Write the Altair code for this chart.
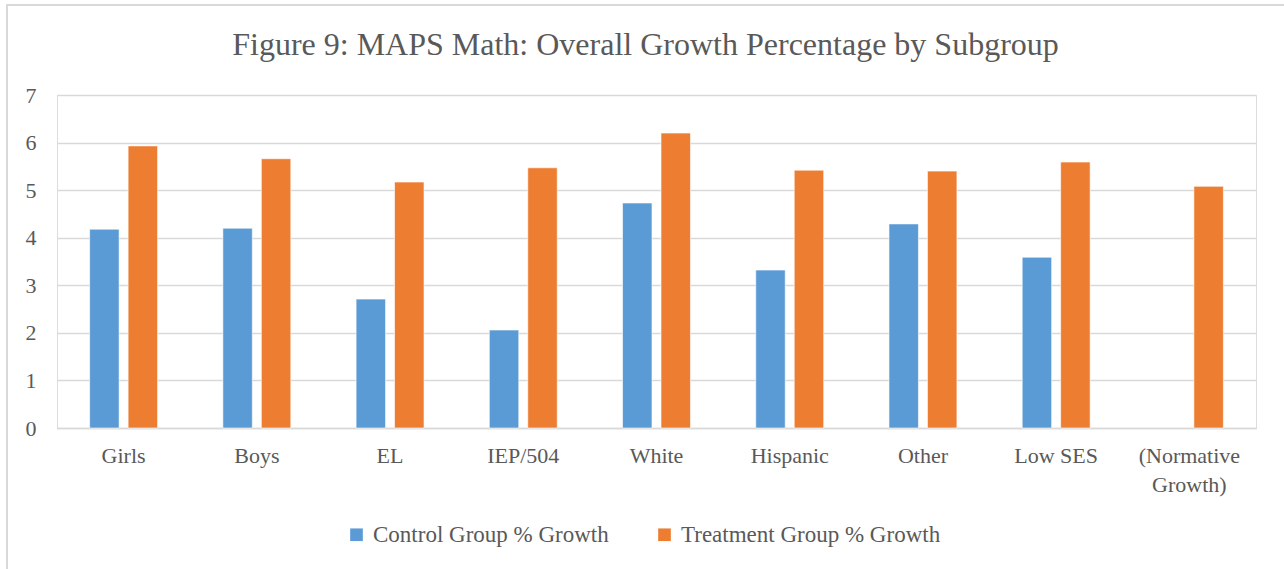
import altair as alt
import pandas as pd

categories = ["Girls", "Boys", "EL", "IEP/504", "White", "Hispanic", "Other", "Low SES", "(Normative Growth)"]
control = [4.18, 4.20, 2.71, 2.06, 4.73, 3.32, 4.29, 3.59, None]
treatment = [5.93, 5.66, 5.17, 5.47, 6.20, 5.42, 5.40, 5.59, 5.08]
series = ["Control Group % Growth", "Treatment Group % Growth"]
colors = ["#5b9bd5", "#ed7d31"]
title_text = ["Figure 9: MAPS Math: Overall Growth Percentage by Subgroup"]

rows = []
for c, a, b in zip(categories, control, treatment):
    if a is not None:
        rows.append({"cat": c, "series": series[0], "value": a})
    rows.append({"cat": c, "series": series[1], "value": b})
df = pd.DataFrame(rows)

FONT = "Liberation Serif"
TXT = "#595959"
W, H = 1199, 333

bars = alt.Chart(df).mark_bar(stroke="white", strokeWidth=1, strokeOpacity=0.6).encode(
    x=alt.X("cat:N", sort=categories, title=None,
            scale=alt.Scale(paddingInner=0.49, paddingOuter=0.245),
            axis=alt.Axis(labelAngle=0, ticks=False, domainColor="#d9d9d9", domainWidth=1.5,
                          labelFont=FONT, labelFontSize=22, labelColor=TXT, labelPadding=17,
                          labelLineHeight=29,
                          labelExpr="datum.value == '(Normative Growth)' ? ['(Normative', 'Growth)'] : datum.value")),
    xOffset=alt.XOffset("series:N", sort=series, scale=alt.Scale(paddingInner=0.234, paddingOuter=0)),
    y=alt.Y("value:Q", title=None,
            scale=alt.Scale(domain=[0, 7], nice=False),
            axis=alt.Axis(values=list(range(8)), domain=False, ticks=False, gridColor="#d9d9d9", gridWidth=1.5,
                          labelFont=FONT, labelFontSize=22, labelColor=TXT, labelPadding=21)),
    color=alt.Color("series:N", sort=series, scale=alt.Scale(domain=series, range=colors),
                    legend=alt.Legend(title=None, orient="none", legendX=288, legendY=428, direction="horizontal",
                                      symbolType="square", symbolSize=160, symbolStrokeWidth=0,
                                      labelFont=FONT, labelFontSize=23, labelColor=TXT,
                                      columnPadding=44, labelOffset=5, labelLimit=400)),
)

frame_df = pd.DataFrame({"k": [0]})
frame = alt.Chart(frame_df).mark_rect(fill=None, stroke="#d9d9d9", strokeWidth=2).encode(
    x=alt.value(-50), x2=alt.value(W + 100), y=alt.value(-90), y2=alt.value(H + 200)
)

title = alt.Chart(pd.DataFrame({"t": title_text})).mark_text(
    font=FONT, fontSize=32, color=TXT, align="center", baseline="middle"
).encode(text="t:N", x=alt.value(W / 2 - 11), y=alt.value(-50))

chart = alt.layer(frame, bars, title).properties(
    width=W, height=H,
    autosize=alt.AutoSizeParams(type="none"),
    padding={"left": 57, "top": 95, "right": 28, "bottom": 141},
).configure_view(stroke=None).configure(background="white")

chart.save("out.html", embed_options={"renderer": "svg", "actions": False})
